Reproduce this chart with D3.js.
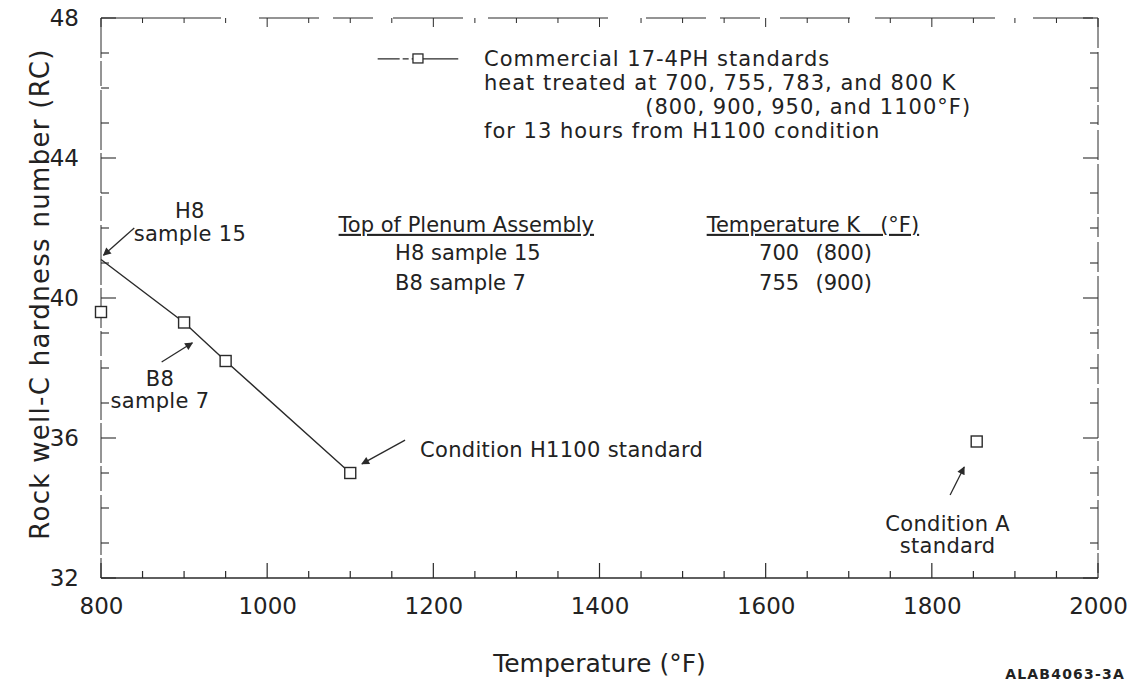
<!DOCTYPE html>
<html>
<head>
<meta charset="utf-8">
<script src="https://cdn.jsdelivr.net/npm/d3@7"></script>
<style>
  body { margin: 0; background: #fff; }
  svg text { font-family: "DejaVu Sans", sans-serif; fill: #222; }
</style>
</head>
<body>
<svg id="chart" width="1138" height="687"></svg>
<script>
// data
var xTicks = [800, 1000, 1200, 1400, 1600, 1800, 2000];
var yTicks = [32, 36, 40, 44, 48];

// commercial 17-4PH standards curve (temperature F, hardness RC)
var stdTemp = [800, 900, 950, 1100];
var stdHard = [41.1, 39.3, 38.2, 35.0];
var stdMarked = [false, true, true, true];

// separate points: point on the axis and condition A standard
var otherTemp = [800, 1854];
var otherHard = [39.6, 35.9];

var tableRows = [
  ["H8 sample 15", "700", "(800)"],
  ["B8 sample 7", "755", "(900)"]
];

var legendLines = [
  "Commercial 17-4PH standards",
  "heat treated at 700, 755, 783, and 800 K",
  "(800, 900, 950, and 1100\u00b0F)",
  "for 13 hours from H1100 condition"
];

var W = 1138, H = 687;
var margin = {top: 18, right: 40, bottom: 109, left: 101};
var width = W - margin.left - margin.right,
    height = H - margin.top - margin.bottom;

var svg = d3.select("#chart");
var g = svg.append("g").attr("transform", "translate(" + margin.left + "," + margin.top + ")");

var x = d3.scaleLinear().domain([800, 2000]).range([0, width]);
var y = d3.scaleLinear().domain([32, 48]).range([height, 0]);

var ink = "#2a2a2a";

// frame
g.append("line").attr("x1", 0).attr("x2", width).attr("y1", height).attr("y2", height)
  .attr("stroke", ink).attr("stroke-width", 1.3);
g.append("line").attr("x1", 0).attr("x2", 0).attr("y1", 0).attr("y2", height)
  .attr("stroke", ink).attr("stroke-width", 1).attr("stroke-dasharray", "40,3,25,4,60,3");
g.append("line").attr("x1", width).attr("x2", width).attr("y1", 0).attr("y2", height)
  .attr("stroke", ink).attr("stroke-width", 1).attr("stroke-dasharray", "30,4,50,3,20,5");
g.append("line").attr("x1", 0).attr("x2", width).attr("y1", 0).attr("y2", 0)
  .attr("stroke", ink).attr("stroke-width", 1.2).attr("stroke-dasharray", "120,38,60,14,40,20,70,25");

// bottom axis: labels plus inward ticks
var xMinor = d3.range(800, 2001, 50);
g.selectAll(".xtick").data(xMinor).enter().append("line")
  .attr("x1", function(d){ return x(d); }).attr("x2", function(d){ return x(d); })
  .attr("y1", height)
  .attr("y2", function(d){ return height - (d % 200 === 0 ? 15 : 7); })
  .attr("stroke", ink).attr("stroke-width", 1.2);
g.selectAll(".ttick").data(xMinor).enter().append("line")
  .attr("x1", function(d){ return x(d); }).attr("x2", function(d){ return x(d); })
  .attr("y1", 0)
  .attr("y2", function(d){ return d % 200 === 0 ? 9 : 5; })
  .attr("stroke", ink).attr("stroke-width", 1);

var xAxis = d3.axisBottom(x).tickValues(xTicks).tickSize(0).tickPadding(20).tickFormat(d3.format("d"));
g.append("g").attr("transform", "translate(0," + height + ")").call(xAxis)
  .call(function(s){ s.select(".domain").remove(); })
  .selectAll("text").style("font-size", "23px").attr("fill", "#222");

// left / right ticks every unit, longer every 4
var yMinor = d3.range(32, 48.01, 1);
[0, width].forEach(function(x0, side){
  var dir = side === 0 ? 1 : -1;
  g.selectAll(".ytick" + side).data(yMinor).enter().append("line")
    .attr("x1", x0)
    .attr("x2", function(d){ return x0 + dir * (d % 4 === 0 ? 15 : 8); })
    .attr("y1", function(d){ return y(d); }).attr("y2", function(d){ return y(d); })
    .attr("stroke", ink).attr("stroke-width", 1.1);
});

var yAxis = d3.axisLeft(y).tickValues(yTicks).tickSize(0).tickPadding(22);
g.append("g").call(yAxis)
  .call(function(s){ s.select(".domain").remove(); })
  .selectAll("text").style("font-size", "23px").attr("fill", "#222");

// axis titles
svg.append("text")
  .attr("transform", "translate(" + 40 + "," + (margin.top + height / 2 - 4) + ") rotate(-90)")
  .attr("text-anchor", "middle").attr("dy", "0.35em")
  .style("font-size", "26px").style("letter-spacing", "1.3px")
  .text("Rock well-C hardness number (RC)");

svg.append("text")
  .attr("x", margin.left + width / 2).attr("y", 672)
  .attr("text-anchor", "middle")
  .style("font-size", "25px")
  .text("Temperature (\u00b0F)");

svg.append("text")
  .attr("x", 1125).attr("y", 679)
  .attr("text-anchor", "end")
  .style("font-size", "14px").style("font-weight", "bold").style("letter-spacing", "1.2px")
  .text("ALAB4063-3A");

// curve
var pts = stdTemp.map(function(t, i){ return {t: t, h: stdHard[i], m: stdMarked[i]}; });
var line = d3.line().x(function(d){ return x(d.t); }).y(function(d){ return y(d.h); });
g.append("path").datum(pts).attr("d", line)
  .attr("fill", "none").attr("stroke", ink).attr("stroke-width", 1.4);

var sq = 11;
g.selectAll(".std").data(pts.filter(function(d){ return d.m; })).enter().append("rect")
  .attr("x", function(d){ return x(d.t) - sq / 2; })
  .attr("y", function(d){ return y(d.h) - sq / 2; })
  .attr("width", sq).attr("height", sq)
  .attr("fill", "#fff").attr("stroke", ink).attr("stroke-width", 1.4);

var others = otherTemp.map(function(t, i){ return {t: t, h: otherHard[i]}; });
g.selectAll(".oth").data(others).enter().append("rect")
  .attr("x", function(d){ return x(d.t) - sq / 2; })
  .attr("y", function(d){ return y(d.h) - sq / 2; })
  .attr("width", sq).attr("height", sq)
  .attr("fill", "#fff").attr("stroke", ink).attr("stroke-width", 1.4);

// arrows
svg.append("defs").append("marker")
  .attr("id", "head").attr("viewBox", "0 0 10 10").attr("refX", 9).attr("refY", 5)
  .attr("markerWidth", 15).attr("markerHeight", 8).attr("markerUnits", "userSpaceOnUse")
  .attr("orient", "auto")
  .append("path").attr("d", "M0,0 L10,5 L0,10 Z").attr("fill", ink);

// [from T, from RC, to T, to RC]
var arrows = [
  [840, 42.0, 803, 41.22],
  [873, 38.17, 910, 38.72],
  [1166, 35.94, 1114, 35.26],
  [1822, 34.37, 1839, 35.17]
];
g.selectAll(".arr").data(arrows).enter().append("line")
  .attr("x1", function(d){ return x(d[0]); }).attr("y1", function(d){ return y(d[1]); })
  .attr("x2", function(d){ return x(d[2]); }).attr("y2", function(d){ return y(d[3]); })
  .attr("stroke", ink).attr("stroke-width", 1.3).attr("marker-end", "url(#head)");

// annotation text [T, RC, anchor, text]
var notes = [
  [907, 42.29, "middle", "H8"],
  [907, 41.63, "middle", "sample 15"],
  [871, 37.49, "middle", "B8"],
  [871, 36.86, "middle", "sample 7"],
  [1184, 35.46, "start", "Condition H1100 standard"],
  [1819, 33.34, "middle", "Condition A"],
  [1819, 32.71, "middle", "standard"]
];
g.selectAll(".note").data(notes).enter().append("text")
  .attr("x", function(d){ return x(d[0]); }).attr("y", function(d){ return y(d[1]); })
  .attr("text-anchor", function(d){ return d[2]; })
  .style("font-size", "21px").style("letter-spacing", "0.3px")
  .text(function(d){ return d[3]; });

// legend
var lgY = y(46.83);
g.append("line").attr("x1", x(1133)).attr("x2", x(1230)).attr("y1", lgY).attr("y2", lgY)
  .attr("stroke", ink).attr("stroke-width", 1.3).attr("stroke-dasharray", "22,3,6,3,60");
g.append("rect").attr("x", x(1181.5) - 5).attr("y", lgY - 5).attr("width", 10).attr("height", 9)
  .attr("fill", "#fff").attr("stroke", ink).attr("stroke-width", 1.3);
var lgH = [46.63, 45.94, 45.26, 44.57];
var lgT = [1261, 1261, 1455, 1261];
g.selectAll(".lg").data(legendLines).enter().append("text")
  .attr("x", function(d, i){ return x(lgT[i]); }).attr("y", function(d, i){ return y(lgH[i]); })
  .style("font-size", "21px").style("letter-spacing", "1px")
  .text(function(d){ return d; });

// table
var tbl = g.append("g").style("font-size", "21px");
tbl.append("text").attr("x", x(1086)).attr("y", y(41.89))
  .style("text-decoration", "underline")
  .text("Top of Plenum Assembly");
tbl.append("text").attr("x", x(1529)).attr("y", y(41.89))
  .style("text-decoration", "underline").style("white-space", "pre")
  .text("Temperature K   (\u00b0F)");
var rowH = [41.1, 40.23];
tableRows.forEach(function(r, i){
  tbl.append("text").attr("x", x(1154)).attr("y", y(rowH[i])).text(r[0]);
  tbl.append("text").attr("x", x(1592)).attr("y", y(rowH[i])).text(r[1]);
  tbl.append("text").attr("x", x(1660)).attr("y", y(rowH[i])).text(r[2]);
});
</script>
</body>
</html>
